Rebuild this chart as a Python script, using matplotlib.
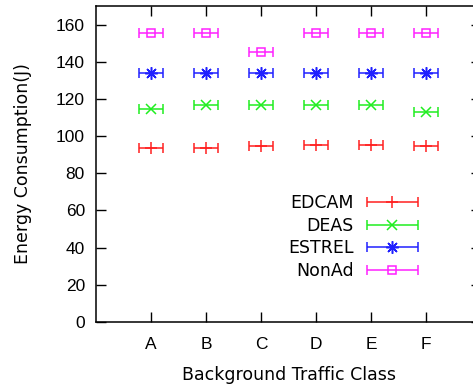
import numpy as np
import matplotlib.pyplot as plt
from matplotlib.container import ErrorbarContainer
from matplotlib.legend_handler import HandlerErrorbar

# Datos
clases = ['A', 'B', 'C', 'D', 'E', 'F']
edcam = [93.5, 93.4, 94.5, 95.4, 95.4, 94.6]
deas = [114.8, 116.6, 116.6, 116.6, 116.6, 113.0]
estrel = [134.0, 134.0, 134.0, 134.0, 134.0, 134.0]
nonad = [155.6, 155.6, 145.4, 155.6, 155.6, 155.6]
err_x = 0.22

# nombre, valores, color, marcador, tamaño, relleno
series = [
    ('EDCAM', edcam, '#ff2020', '+', 9, 'full'),
    ('DEAS', deas, '#20ee20', 'x', 7, 'full'),
    ('ESTREL', estrel, '#2020ff', (8, 2, 0), 9, 'full'),
    ('NonAd', nonad, '#ff20ff', 's', 6, 'none'),
]

fig = plt.figure(figsize=(4.73, 3.89), dpi=100)
ax = fig.add_axes([96 / 473, 1 - 322 / 389, (481 - 96) / 473, (322 - 6) / 389])

x = np.arange(1, len(clases) + 1)
for nombre, vals, color, marca, ms, relleno in series:
    ax.errorbar(x, vals, xerr=err_x, marker=marca, ls='none', color=color,
                ms=ms, mfc='none' if relleno == 'none' else color, mew=1.1,
                elinewidth=1.1, capsize=3.8, capthick=1.1, label=nombre)

ax.set_xlim(0, 7)
ax.set_ylim(0, 170)
ax.set_xticks(x)
ax.set_xticklabels(clases)
ax.set_yticks(np.arange(0, 161, 20))
for s in ax.spines.values():
    s.set_linewidth(1.1)
ax.tick_params(direction='in', length=7, width=1.0, top=True, right=True,
               labelsize=12.5)
ax.tick_params(axis='x', pad=11)
ax.tick_params(axis='y', pad=8)
for lab in ax.get_xticklabels() + ax.get_yticklabels():
    lab.set_fontfamily('Liberation Sans')

ax.set_xlabel('Background Traffic Class', fontsize=12.5, labelpad=10)
ax.set_ylabel('Energy Consumption(J)', fontsize=12.5, labelpad=17)

ax.legend(loc='upper right', bbox_to_anchor=(418 / 473, 1 - 194 / 389),
          bbox_transform=fig.transFigure, frameon=False, borderpad=0,
          borderaxespad=0, markerfirst=False, fontsize=12.5,
          handlelength=2.95, labelspacing=0.27, handletextpad=0.75,
          handler_map={ErrorbarContainer: HandlerErrorbar(xerr_size=1.47)})

fig.savefig('out.png', dpi=100)
